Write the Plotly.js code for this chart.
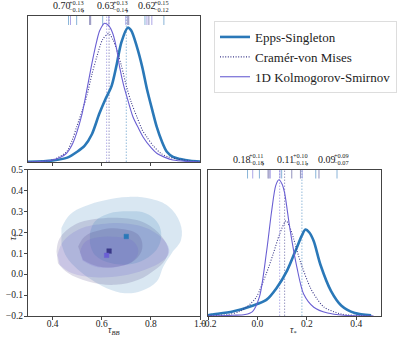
<!DOCTYPE html>
<html>
<head>
<meta charset="utf-8">
<script src="https://cdn.plot.ly/plotly-3.0.1.min.js"></script>
<style>
  html, body { margin: 0; padding: 0; background: #fff; }
  #corner { width: 399px; height: 337px; }
</style>
</head>
<body>
<div id="corner"></div>
<script>
var methods = ['Epps-Singleton', 'Cramér-von Mises', '1D Kolmogorov-Smirnov'];
var colors = ['#2a78b8', '#3a3889', '#6a5fd3'];
var fills = ['rgba(42,120,184,0.18)', 'rgba(70,60,130,0.18)', 'rgba(106,95,211,0.18)'];

// medians and errors
var tauBB = [0.70, 0.63, 0.62];
var tauBBPlus = [0.13, 0.13, 0.15];
var tauBBMinus = [0.16, 0.14, 0.12];
var tauStar = [0.18, 0.11, 0.09];
var tauStarPlus = [0.11, 0.10, 0.09];
var tauStarMinus = [0.18, 0.11, 0.07];

// 1D densities, tau_BB
var esBBx = [0.30,0.40,0.46,0.50,0.53,0.56,0.59,0.615,0.64,0.66,0.68,0.706,0.72,0.743,0.765,0.784,0.805,0.824,0.845,0.865,0.89,0.92,0.96,1.0];
var esBBy = [0.002,0.01,0.03,0.07,0.11,0.19,0.33,0.43,0.52,0.66,0.82,0.92,0.90,0.79,0.65,0.50,0.36,0.24,0.14,0.07,0.035,0.02,0.008,0.003];
var cvmBBx = [0.30,0.40,0.457,0.48,0.498,0.52,0.539,0.56,0.58,0.604,0.629,0.645,0.661,0.68,0.702,0.72,0.743,0.765,0.784,0.81,0.84,0.87,0.91,0.96,1.0];
var cvmBBy = [0.0,0.015,0.07,0.15,0.24,0.35,0.45,0.60,0.72,0.84,0.88,0.84,0.77,0.66,0.51,0.41,0.31,0.22,0.17,0.11,0.06,0.035,0.02,0.007,0.002];
var ksBBx = [0.30,0.39,0.43,0.457,0.48,0.498,0.52,0.539,0.563,0.58,0.592,0.612,0.63,0.645,0.66,0.673,0.69,0.702,0.727,0.75,0.769,0.80,0.824,0.86,0.89,0.95,1.0];
var ksBBy = [0.0,0.01,0.03,0.06,0.12,0.20,0.33,0.49,0.70,0.83,0.90,0.95,0.93,0.88,0.78,0.65,0.52,0.45,0.31,0.23,0.17,0.10,0.06,0.03,0.014,0.004,0.0];

// 1D densities, tau_*
var esSx = [-0.2,-0.185,-0.1,-0.02,0.036,0.077,0.12,0.16,0.18,0.194,0.21,0.228,0.255,0.298,0.34,0.394,0.46];
var esSy = [0.005,0.01,0.03,0.07,0.11,0.19,0.31,0.47,0.55,0.59,0.57,0.51,0.35,0.17,0.07,0.02,0.005];
var cvmSx = [-0.2,-0.12,-0.074,-0.03,-0.004,0.036,0.063,0.09,0.116,0.13,0.146,0.174,0.215,0.24,0.27,0.34,0.42,0.47];
var cvmSy = [0.002,0.01,0.03,0.08,0.13,0.29,0.42,0.56,0.65,0.61,0.53,0.37,0.19,0.12,0.06,0.013,0.003,0.0];
var ksSx = [-0.2,-0.1,-0.05,-0.02,0.008,0.037,0.057,0.074,0.087,0.10,0.11,0.132,0.16,0.187,0.228,0.284,0.35,0.47];
var ksSy = [0.0,0.005,0.01,0.03,0.13,0.44,0.71,0.89,0.93,0.90,0.84,0.59,0.33,0.15,0.06,0.02,0.005,0.0];

// rug samples
var rugBB = [
  [0.465,0.498,0.604,0.776,0.853],
  [0.551,0.555,0.706,0.710,0.792],
  [0.473,0.629,0.698,0.784,0.804]
];
var rugStar = [
  [-0.04,0.008,0.098,0.236,0.322],
  [0.043,0.047,0.139,0.174,0.249],
  [-0.019,0.052,0.091,0.181]
];

// 2D credible contours (outer, inner) per method
var esOuterX = [0.436,0.470,0.531,0.613,0.708,0.803,0.871,0.919,0.923,0.885,0.851,0.824,0.763,0.695,0.620,0.559,0.504,0.456,0.436];
var esOuterY = [0.220,0.284,0.324,0.353,0.369,0.359,0.324,0.244,0.164,0.100,0.037,-0.035,-0.079,-0.091,-0.067,-0.027,0.021,0.084,0.148];
var esInnerX = [0.552,0.572,0.627,0.708,0.776,0.824,0.842,0.831,0.790,0.722,0.640,0.572,0.552];
var esInnerY = [0.196,0.252,0.289,0.300,0.292,0.252,0.196,0.132,0.081,0.049,0.052,0.092,0.148];
var cvmOuterX = [0.416,0.429,0.490,0.572,0.681,0.776,0.844,0.871,0.858,0.817,0.749,0.654,0.545,0.463,0.422];
var cvmOuterY = [0.108,0.172,0.236,0.263,0.268,0.244,0.180,0.116,0.068,0.021,-0.027,-0.051,-0.035,0.005,0.052];
var cvmInnerX = [0.504,0.531,0.599,0.681,0.749,0.765,0.735,0.667,0.586,0.524];
var cvmInnerY = [0.132,0.180,0.212,0.216,0.188,0.124,0.068,0.037,0.037,0.068];
var ksOuterX = [0.420,0.443,0.504,0.599,0.708,0.803,0.865,0.874,0.844,0.776,0.681,0.572,0.477,0.429];
var ksOuterY = [0.092,0.156,0.212,0.239,0.241,0.209,0.145,0.100,0.060,0.021,-0.008,-0.015,0.005,0.045];
var ksInnerX = [0.511,0.531,0.586,0.667,0.729,0.749,0.724,0.656,0.572,0.522];
var ksInnerY = [0.104,0.152,0.176,0.177,0.156,0.108,0.060,0.033,0.037,0.065];

var W = 399, H = 337;
function px(x) { return x / W; }
function py(y) { return 1 - y / H; }

var serif = '"Liberation Serif", "DejaVu Serif", serif';
var lineWidths = [2.6, 1.1, 1.1];
var dashes = ['solid', '1px,1.6px', 'solid'];

var data = [];

var bbCurves = [[esBBx, esBBy], [cvmBBx, cvmBBy], [ksBBx, ksBBy]];
var starCurves = [[esSx, esSy], [cvmSx, cvmSy], [ksSx, ksSy]];

for (var i = 0; i < 3; i++) {
  // median lines
  data.push({x: [tauBB[i], tauBB[i]], y: [0, 1], xaxis: 'x', yaxis: 'y', mode: 'lines',
    line: {color: colors[i], width: 1, dash: '1.5px,1.5px'}, opacity: 0.5, showlegend: false, hoverinfo: 'skip'});
  data.push({x: [tauStar[i], tauStar[i]], y: [0, 1], xaxis: 'x3', yaxis: 'y3', mode: 'lines',
    line: {color: colors[i], width: 1, dash: '1.5px,1.5px'}, opacity: 0.5, showlegend: false, hoverinfo: 'skip'});
  // rugs
  data.push({x: rugBB[i], y: rugBB[i].map(function () { return 0.972; }), xaxis: 'x', yaxis: 'y', mode: 'markers',
    marker: {symbol: 'line-ns-open', size: 7, color: colors[i], line: {color: colors[i], width: 1}}, opacity: 0.55, showlegend: false, hoverinfo: 'skip'});
  data.push({x: rugStar[i], y: rugStar[i].map(function () { return 0.972; }), xaxis: 'x3', yaxis: 'y3', mode: 'markers',
    marker: {symbol: 'line-ns-open', size: 7, color: colors[i], line: {color: colors[i], width: 1}}, opacity: 0.55, showlegend: false, hoverinfo: 'skip'});
}

for (var i = 0; i < 3; i++) {
  data.push({x: bbCurves[i][0], y: bbCurves[i][1], xaxis: 'x', yaxis: 'y', mode: 'lines', name: methods[i],
    line: {color: colors[i], width: lineWidths[i], dash: dashes[i], shape: 'spline', smoothing: 0.8}});
  data.push({x: starCurves[i][0], y: starCurves[i][1], xaxis: 'x3', yaxis: 'y3', mode: 'lines', showlegend: false,
    line: {color: colors[i], width: lineWidths[i], dash: dashes[i], shape: 'spline', smoothing: 0.8}});
}

// filled contours
var contours = [
  [esOuterX, esOuterY, 0], [cvmOuterX, cvmOuterY, 1], [ksOuterX, ksOuterY, 2],
  [esInnerX, esInnerY, 0], [cvmInnerX, cvmInnerY, 1], [ksInnerX, ksInnerY, 2]
];
contours.forEach(function (c) {
  data.push({x: c[0], y: c[1], xaxis: 'x2', yaxis: 'y2', mode: 'lines', fill: 'toself',
    fillcolor: fills[c[2]], line: {width: 0, shape: 'spline', smoothing: 1.1}, showlegend: false, hoverinfo: 'skip'});
});
for (var i = 0; i < 3; i++) {
  data.push({x: [tauBB[i]], y: [tauStar[i]], xaxis: 'x2', yaxis: 'y2', mode: 'markers', showlegend: false,
    marker: {symbol: i === 1 ? 'square-x' : 'square', size: 4.5, color: colors[i], line: {width: 0.5, color: colors[i]}}});
}

// stacked value labels above 1D panels
var annotations = [];
function note(text, x, y, size, anchor, yanchor) {
  annotations.push({text: text, x: px(x), y: py(y), xref: 'paper', yref: 'paper',
    xanchor: anchor || 'left', yanchor: yanchor || 'middle', showarrow: false, font: {family: serif, size: size, color: '#222'}});
}
function summary(vals, plus, minus, lefts, yMid) {
  for (var i = 0; i < 3; i++) {
    note(vals[i].toFixed(2), lefts[i] - 2, yMid, 10);
    note('+' + plus[i].toFixed(2), lefts[i] + 14, yMid - 3.6, 6.3);
    note('\u2212' + minus[i].toFixed(2), lefts[i] + 14, yMid + 3.6, 6.3);
    if (i < 2) note(',', lefts[i] + 27, yMid + 1.5, 10);
  }
}
summary(tauBB, tauBBPlus, tauBBMinus, [53, 97, 138], 6);
summary(tauStar, tauStarPlus, tauStarMinus, [233, 277, 318], 159);

// axis titles
annotations.push({text: '<i>τ</i><sub>*</sub>', x: px(4), y: py(243), xref: 'paper', yref: 'paper',
  textangle: -90, showarrow: false, font: {family: serif, size: 10, color: '#222'}});
note('<i>τ</i><sub><i>BB</i></sub>', 114, 338, 9.5, 'center', 'bottom');
note('<i>τ</i><sub>*</sub>', 293, 338, 9.5, 'center', 'bottom');

var axisBase = {showline: true, mirror: true, linecolor: '#444', linewidth: 1, showgrid: false, zeroline: false,
  ticks: 'outside', ticklen: 3, tickcolor: '#444', ticklabelstandoff: -1,
  tickfont: {family: serif, size: 9.5, color: '#222'}};
function ax(o) { return Object.assign({}, axisBase, o); }

var leftDom = [px(28), px(200)];
var rightDom = [px(208), px(381)];
var topDom = [py(162), py(16)];
var botDom = [py(316), py(169.5)];

var layout = {
  width: W, height: H,
  margin: {l: 0, r: 0, t: 0, b: 0},
  paper_bgcolor: '#fff', plot_bgcolor: '#fff',
  font: {family: serif, color: '#222'},
  showlegend: true,
  legend: {x: px(214), y: py(21), xanchor: 'left', yanchor: 'top', bgcolor: '#fff', itemwidth: 30,
    bordercolor: '#ddd', borderwidth: 1, font: {family: serif, size: 13, color: '#222'}},
  xaxis: ax({domain: leftDom, range: [0.3, 1.0], anchor: 'y', tickvals: [0.4, 0.6, 0.8], showticklabels: false}),
  yaxis: ax({domain: topDom, range: [0, 1], anchor: 'x', ticks: '', showticklabels: false}),
  xaxis2: ax({domain: leftDom, range: [0.3, 1.0], anchor: 'y2', tickvals: [0.4, 0.6, 0.8, 1.0],
    ticktext: ['0.4', '0.6', '0.8', '1.0'], ticklabelstandoff: -4}),
  yaxis2: ax({domain: botDom, range: [-0.2, 0.5], anchor: 'x2',
    tickvals: [-0.2, -0.1, 0, 0.1, 0.2, 0.3, 0.4, 0.5],
    ticktext: ['\u22120.2', '\u22120.1', '0.0', '0.1', '0.2', '0.3', '0.4', '0.5']}),
  xaxis3: ax({domain: rightDom, range: [-0.2, 0.5], anchor: 'y3', tickvals: [-0.2, 0, 0.2, 0.4],
    ticktext: ['\u22120.2', '0.0', '0.2', '0.4'], ticklabelstandoff: -4}),
  yaxis3: ax({domain: botDom, range: [0, 1], anchor: 'x3', ticks: '', showticklabels: false}),
  annotations: annotations
};

Plotly.newPlot('corner', data, layout, {displayModeBar: false, staticPlot: true});
</script>
</body>
</html>
